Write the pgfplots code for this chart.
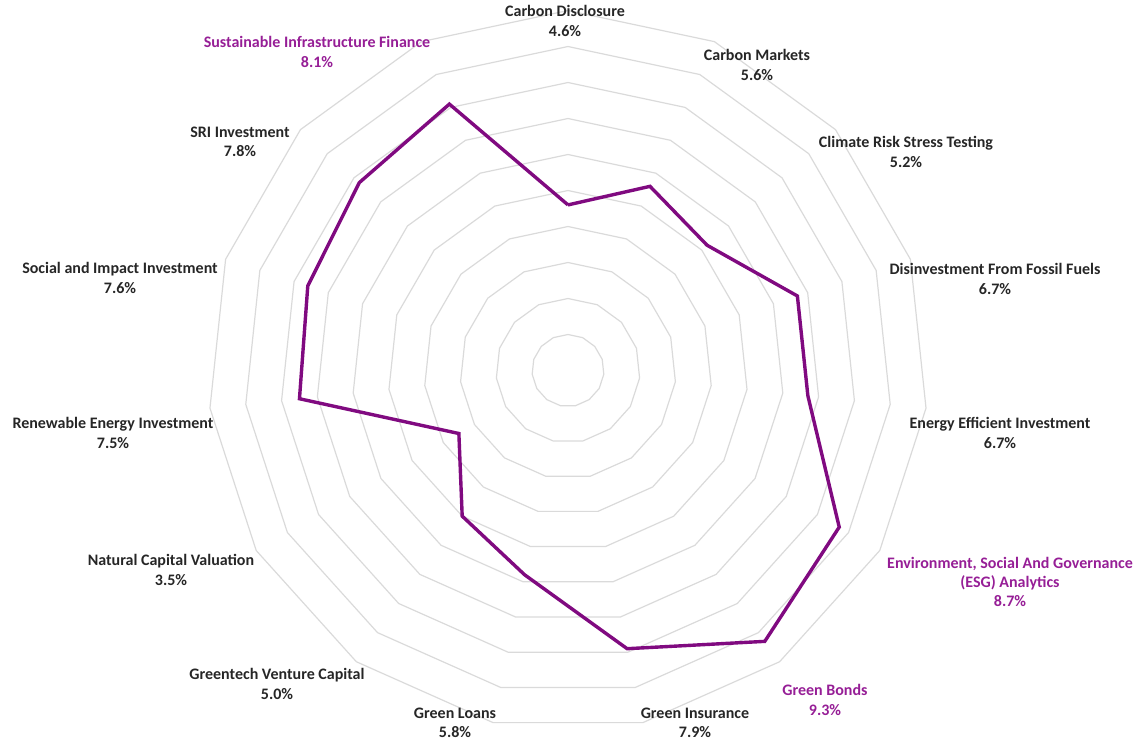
\documentclass[border=0pt]{standalone}
\usepackage{pgfplots}
\usepgfplotslibrary{polar}
\usepackage{fontspec}
\setmainfont{Carlito}
\pgfplotsset{compat=1.18}

\definecolor{line}{RGB}{128,10,128}
\definecolor{hilab}{RGB}{150,30,150}
\definecolor{lab}{RGB}{38,38,38}
\definecolor{ring}{RGB}{218,218,218}

\tikzset{lbl/.style={align=center, font=\fontsize{8}{9.6}\selectfont\bfseries, text=lab, inner sep=0pt}}

\begin{document}
\begin{tikzpicture}
\useasboundingbox (-284pt,-185.25pt) rectangle (284pt,185.25pt);
\begin{polaraxis}[
  at={(0,0)}, anchor=origin,
  width=360pt, height=360pt, scale only axis,
  ymin=0, ymax=10,
  hide axis,
  clip=false
]
% rings, one per percent
\pgfplotsinvokeforeach{1,...,10}{
  \addplot[ring, line width=0.6pt, mark=none] coordinates {
    (90,#1) (66,#1) (42,#1) (18,#1) (354,#1) (330,#1) (306,#1) (282,#1)
    (258,#1) (234,#1) (210,#1) (186,#1) (162,#1) (138,#1) (114,#1) (90,#1)
  };
}
\addplot[line, line width=1.7pt, mark=none, line join=miter] coordinates {
  (90,4.6) (66,5.6) (42,5.2) (18,6.7) (354,6.7) (330,8.7) (306,9.3) (282,7.9)
  (258,5.8) (234,5.0) (210,3.5) (186,7.5) (162,7.6) (138,7.8) (114,8.1) (90,4.6)
};
\end{polaraxis}

\node[lbl] at (-1.5pt,174.75pt) {Carbon Disclosure\\4.6\%};
\node[lbl] at (94.5pt,152.75pt) {Carbon Markets\\5.6\%};
\node[lbl] at (169pt,109.25pt) {Climate Risk Stress Testing\\5.2\%};
\node[lbl] at (213.5pt,45.75pt) {Disinvestment From Fossil Fuels\\6.7\%};
\node[lbl] at (216pt,-31.25pt) {Energy Efficient Investment\\6.7\%};
\node[lbl, text=hilab] at (221pt,-105.75pt) {Environment, Social And Governance\\(ESG) Analytics\\8.7\%};
\node[lbl, text=hilab] at (128.5pt,-164.75pt) {Green Bonds\\9.3\%};
\node[lbl] at (63.5pt,-176.25pt) {Green Insurance\\7.9\%};
\node[lbl] at (-56.5pt,-176.25pt) {Green Loans\\5.8\%};
\node[lbl] at (-145.5pt,-156.75pt) {Greentech Venture Capital\\5.0\%};
\node[lbl] at (-198.5pt,-99.75pt) {Natural Capital Valuation\\3.5\%};
\node[lbl] at (-227.5pt,-31.25pt) {Renewable Energy Investment\\7.5\%};
\node[lbl] at (-224pt,46.25pt) {Social and Impact Investment\\7.6\%};
\node[lbl] at (-164pt,114.25pt) {SRI Investment\\7.8\%};
\node[lbl, text=hilab] at (-125.5pt,159.25pt) {Sustainable Infrastructure Finance\\8.1\%};
\end{tikzpicture}
\end{document}
